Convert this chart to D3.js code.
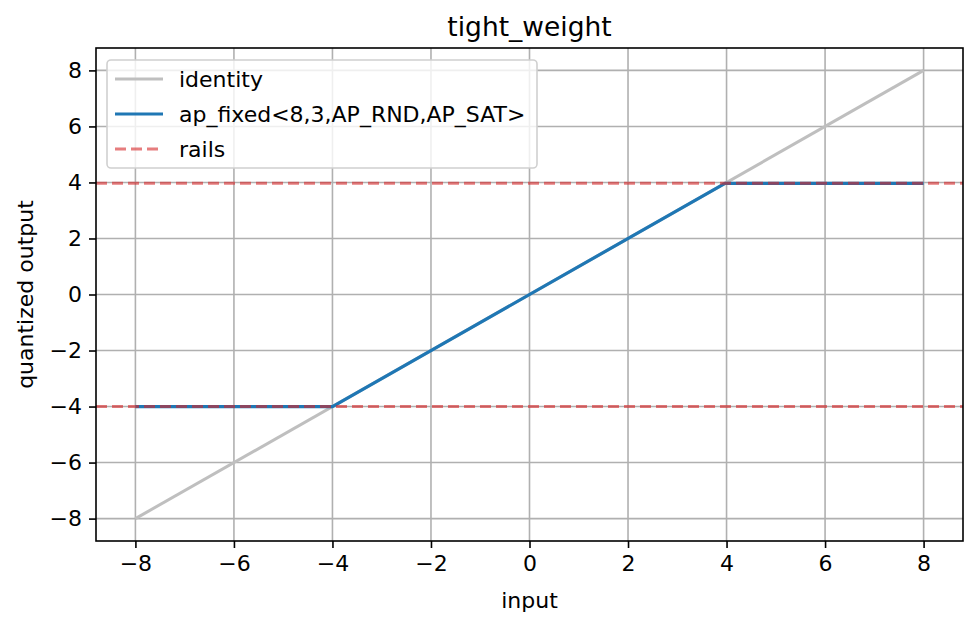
<!DOCTYPE html>
<html>
<head>
<meta charset="utf-8">
<script src="https://cdn.jsdelivr.net/npm/d3@7"></script>
<style>
  body { margin: 0; background: #fff; }
  text { font-family: "DejaVu Sans", sans-serif; fill: #000; }
</style>
</head>
<body>
<svg id="chart" width="980" height="628"></svg>
<script>
// data
var identityX = [-8, 8];
var identityY = [-8, 8];
var quantX = [-8, -4, 3.96875, 8];
var quantY = [-4, -4, 3.96875, 3.96875];
var rails = [-4, 3.96875];
var xTicks = [-8, -6, -4, -2, 0, 2, 4, 6, 8];
var yTicks = [-8, -6, -4, -2, 0, 2, 4, 6, 8];
var legendLabels = ["identity", "ap_fixed<8,3,AP_RND,AP_SAT>", "rails"];

var mLeft = 96, mRight = 963, mTop = 48, mBottom = 541;
var fontSize = '22px';

var svg = d3.select('#chart');

var x = d3.scaleLinear().domain([-8.8, 8.8]).range([mLeft, mRight]);
var y = d3.scaleLinear().domain([-8.8, 8.8]).range([mBottom, mTop]);

// grid
svg.append('g').selectAll('line')
  .data(xTicks).enter().append('line')
  .attr('x1', function(d){ return x(d); }).attr('x2', function(d){ return x(d); })
  .attr('y1', mTop).attr('y2', mBottom)
  .style('stroke', '#b0b0b0').style('stroke-width', 1.6);
svg.append('g').selectAll('line')
  .data(yTicks).enter().append('line')
  .attr('y1', function(d){ return y(d); }).attr('y2', function(d){ return y(d); })
  .attr('x1', mLeft).attr('x2', mRight)
  .style('stroke', '#b0b0b0').style('stroke-width', 1.6);

var line = d3.line()
  .x(function(d){ return x(d[0]); })
  .y(function(d){ return y(d[1]); });

// identity
svg.append('path')
  .datum(d3.zip(identityX, identityY))
  .attr('d', line)
  .style('fill', 'none').style('stroke', '#bfbfbf').style('stroke-width', 3);

// quantized
svg.append('path')
  .datum(d3.zip(quantX, quantY))
  .attr('d', line)
  .style('fill', 'none').style('stroke', '#1f77b4').style('stroke-width', 3.2);

// rails
svg.append('g').selectAll('line')
  .data(rails).enter().append('line')
  .attr('x1', mLeft).attr('x2', mRight)
  .attr('y1', function(d){ return y(d); }).attr('y2', function(d){ return y(d); })
  .style('stroke', '#d62728').style('stroke-opacity', 0.6)
  .style('stroke-width', 3).style('stroke-dasharray', '11,5');

// axes
var minus = function(d){ return d < 0 ? '\u2212' + Math.abs(d) : d; };
var xAxis = d3.axisBottom(x).tickValues(xTicks).tickSize(7).tickPadding(7).tickFormat(minus);
var yAxis = d3.axisLeft(y).tickValues(yTicks).tickSize(7).tickPadding(7).tickFormat(minus);

var gx = svg.append('g').attr('transform', 'translate(0,' + mBottom + ')').call(xAxis);
var gy = svg.append('g').attr('transform', 'translate(' + mLeft + ',0)').call(yAxis);
[gx, gy].forEach(function(g){
  g.select('.domain').remove();
  g.selectAll('.tick line').style('stroke', '#000').style('stroke-width', 1.6);
  g.selectAll('.tick text').style('font-size', fontSize)
    .style('font-family', '"DejaVu Sans", sans-serif');
});

// frame
svg.append('rect')
  .attr('x', mLeft).attr('y', mTop)
  .attr('width', mRight - mLeft).attr('height', mBottom - mTop)
  .style('fill', 'none').style('stroke', '#000').style('stroke-width', 1.6);

// labels
svg.append('text').attr('x', (mLeft + mRight) / 2).attr('y', 36)
  .attr('text-anchor', 'middle').style('font-size', '26.5px').text('tight_weight');
svg.append('text').attr('x', (mLeft + mRight) / 2).attr('y', 608)
  .attr('text-anchor', 'middle').style('font-size', fontSize).text('input');
svg.append('text')
  .attr('transform', 'translate(33,' + ((mTop + mBottom) / 2) + ') rotate(-90)')
  .attr('text-anchor', 'middle').style('font-size', fontSize).text('quantized output');

// legend
var legend = svg.append('g');
legend.append('rect')
  .attr('x', 107).attr('y', 60).attr('width', 430).attr('height', 108)
  .attr('rx', 4)
  .style('fill', '#fff').style('fill-opacity', 0.8)
  .style('stroke', '#d0d0d0').style('stroke-width', 1.6);
var legendStyles = [
  { color: '#bfbfbf', opacity: 1, dash: null },
  { color: '#1f77b4', opacity: 1, dash: null },
  { color: '#d62728', opacity: 0.6, dash: '11,5' }
];
var rows = legend.selectAll('g.row').data(legendLabels).enter().append('g')
  .attr('transform', function(d, i){ return 'translate(0,' + (79 + i * 35) + ')'; });
rows.append('line')
  .attr('x1', 115).attr('x2', 163).attr('y1', 0).attr('y2', 0)
  .style('stroke', function(d, i){ return legendStyles[i].color; })
  .style('stroke-opacity', function(d, i){ return legendStyles[i].opacity; })
  .style('stroke-dasharray', function(d, i){ return legendStyles[i].dash; })
  .style('stroke-width', 3);
rows.append('text')
  .attr('x', 179).attr('y', 8)
  .style('font-size', fontSize)
  .text(function(d){ return d; });
</script>
</body>
</html>
